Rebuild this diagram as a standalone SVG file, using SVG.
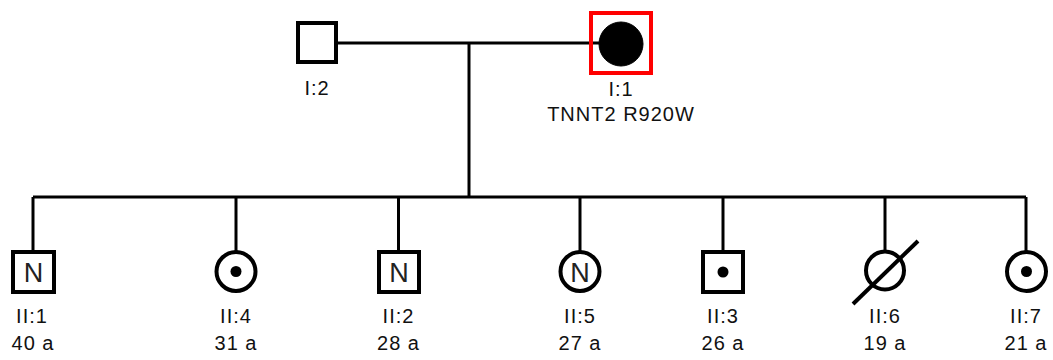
<svg xmlns="http://www.w3.org/2000/svg" width="1053" height="360" viewBox="0 0 1053 360">
<style>
.sym{fill:#fff;stroke:#000;stroke-width:4}
.aff{fill:#000;stroke:#000;stroke-width:1}
.ln{stroke:#000;stroke-width:3;fill:none}
.lbl{font-family:"Liberation Sans",Arial,sans-serif;font-size:20px;fill:#111;text-anchor:middle;letter-spacing:1px}
.inN{font-family:"Liberation Sans",Arial,sans-serif;font-size:27px;fill:#222;text-anchor:middle}
</style>
<rect width="1053" height="360" fill="#fff"/>
<g id="connectors">
<line class="ln" x1="337" y1="43" x2="600" y2="43"/>
<line class="ln" x1="469" y1="43" x2="469" y2="197"/>
<line class="ln" x1="33" y1="197" x2="1026" y2="197"/>
<line class="ln" x1="33" y1="197" x2="33" y2="251"/>
<line class="ln" x1="236" y1="197" x2="236" y2="251"/>
<line class="ln" x1="398.5" y1="197" x2="398.5" y2="251"/>
<line class="ln" x1="580" y1="197" x2="580" y2="251"/>
<line class="ln" x1="723" y1="197" x2="723" y2="251"/>
<line class="ln" x1="885" y1="197" x2="885" y2="251"/>
<line class="ln" x1="1026" y1="197" x2="1026" y2="251"/>
</g>
<g id="I-2">
<rect class="sym" x="298" y="23" width="38" height="39"/>
<text class="lbl" x="317" y="95">I:2</text>
</g>
<g id="I-1">
<rect x="591" y="13" width="60" height="60" fill="none" stroke="#f00" stroke-width="4"/>
<circle class="aff" cx="621" cy="44" r="22"/>
<text class="lbl" x="621" y="96">I:1</text>
<text class="lbl" x="621" y="121">TNNT2 R920W</text>
</g>
<g id="II-1">
<rect class="sym" x="13" y="252" width="41" height="40"/>
<text class="inN" x="33.5" y="282">N</text>
<text class="lbl" x="32" y="323">II:1</text>
<text class="lbl" x="33" y="350">40 a</text>
</g>
<g id="II-4">
<circle class="sym" cx="236" cy="271.5" r="19.5"/>
<circle cx="236" cy="271.5" r="5.5" fill="#000"/>
<text class="lbl" x="236" y="323">II:4</text>
<text class="lbl" x="236" y="350">31 a</text>
</g>
<g id="II-2">
<rect class="sym" x="379" y="252" width="40" height="40"/>
<text class="inN" x="399" y="282">N</text>
<text class="lbl" x="398.5" y="323">II:2</text>
<text class="lbl" x="398.5" y="350">28 a</text>
</g>
<g id="II-5">
<circle class="sym" cx="580" cy="271.5" r="19.5"/>
<text class="inN" x="580" y="281.5">N</text>
<text class="lbl" x="580" y="323">II:5</text>
<text class="lbl" x="580" y="350">27 a</text>
</g>
<g id="II-3">
<rect class="sym" x="703" y="252" width="40" height="40"/>
<circle cx="723" cy="272" r="5.5" fill="#000"/>
<text class="lbl" x="723" y="323">II:3</text>
<text class="lbl" x="723" y="350">26 a</text>
</g>
<g id="II-6">
<circle class="sym" cx="885" cy="270.5" r="19"/>
<line x1="853" y1="304" x2="918" y2="241" stroke="#000" stroke-width="4"/>
<text class="lbl" x="885" y="323">II:6</text>
<text class="lbl" x="885" y="350">19 a</text>
</g>
<g id="II-7">
<circle class="sym" cx="1026.5" cy="271.5" r="19.5"/>
<circle cx="1026.5" cy="271.5" r="5.5" fill="#000"/>
<text class="lbl" x="1026" y="323">II:7</text>
<text class="lbl" x="1026" y="350">21 a</text>
</g>
</svg>
